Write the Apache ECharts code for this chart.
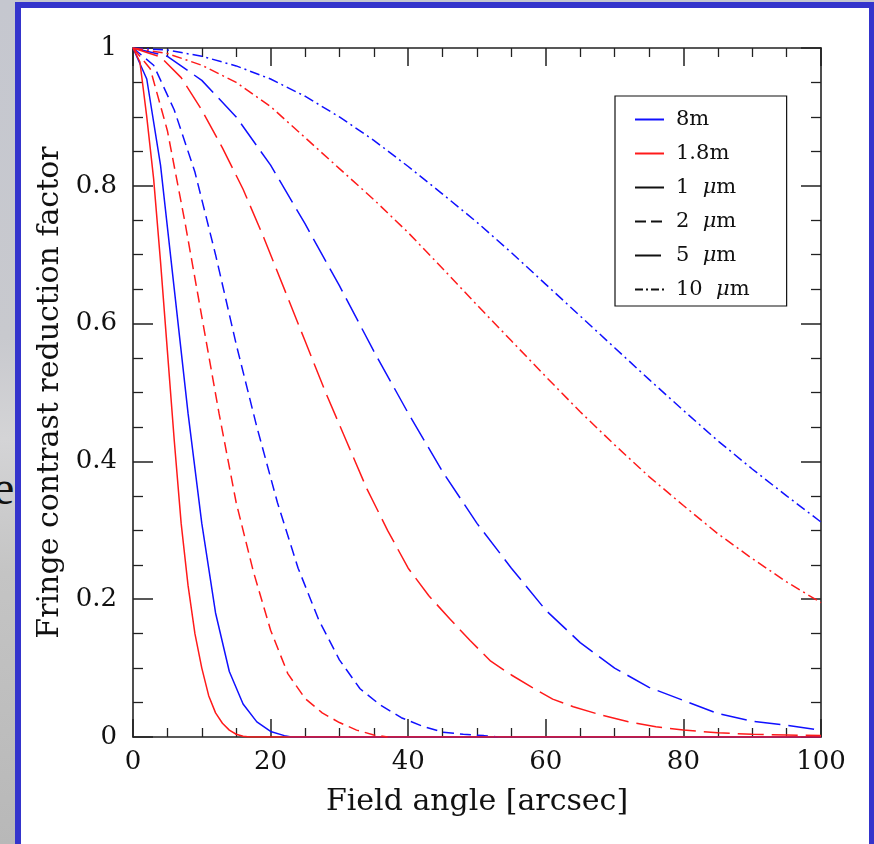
<!DOCTYPE html>
<html>
<head>
<meta charset="utf-8">
<script src="https://cdn.jsdelivr.net/npm/echarts@6/dist/echarts.min.js"></script>
<style>
  html, body { margin: 0; padding: 0; }
  body {
    width: 874px; height: 844px; overflow: hidden; position: relative;
    background: linear-gradient(to bottom, #c5c7cf 0%, #c8c9ce 40%, #d4d4d6 52%, #c4c4c4 68%, #b8b8b8 100%);
  }
  #slideText {
    position: absolute; left: -7px; top: 460px;
    font: 48px "Liberation Serif", serif; color: #111;
  }
  #panel {
    position: absolute; left: 15px; top: 2px; width: 859px; height: 842px;
    box-sizing: border-box; background: #fff;
    border-left: 6px solid #3434cc; border-top: 6px solid #3434cc; border-right: 5px solid #3434cc;
  }
  #chart { position: absolute; left: 0; top: 0; width: 874px; height: 844px; }
</style>
</head>
<body>
<div id="slideText">e</div>
<div id="panel"></div>
<div id="chart"></div>
<script>
// Fringe contrast reduction versus field angle, [angle in arcsec, factor]
// 8 m aperture
const blue1um  = [[0,1],[2,0.955],[4,0.83],[6,0.65],[8,0.47],[10,0.31],[12,0.18],[14,0.095],[16,0.048],[18,0.022],[20,0.008],[22,0.002],[23,0],[100,0]];
const blue2um  = [[0,1],[3,0.975],[6,0.91],[9,0.82],[12,0.7],[15,0.57],[18,0.45],[21,0.34],[24,0.245],[27,0.17],[30,0.112],[33,0.07],[36,0.046],[39,0.028],[42,0.016],[45,0.007],[48,0.004],[51,0.002],[53,0]];
const blue5um  = [[0,1],[5,0.988],[10,0.953],[15,0.9],[20,0.83],[25,0.745],[30,0.655],[35,0.56],[40,0.47],[45,0.385],[50,0.31],[55,0.245],[60,0.184],[65,0.137],[70,0.1],[75,0.072],[80,0.053],[85,0.034],[90,0.023],[95,0.017],[100,0.01]];
const blue10um = [[0,1],[5,0.997],[10,0.988],[15,0.974],[20,0.955],[25,0.93],[30,0.9],[35,0.866],[40,0.828],[45,0.788],[50,0.747],[55,0.703],[60,0.657],[65,0.611],[70,0.565],[75,0.519],[80,0.474],[85,0.43],[90,0.389],[95,0.35],[100,0.312]];
// 1.8 m aperture
const red1um  = [[0,1],[1,0.98],[2,0.9],[3,0.81],[4,0.69],[5,0.56],[6,0.43],[7,0.31],[8,0.22],[9,0.15],[10,0.1],[11,0.06],[12,0.035],[13,0.02],[14,0.01],[15,0.004],[16,0.001],[17,0],[100,0]];
const red2um  = [[0,1],[2.5,0.97],[5,0.88],[7.5,0.75],[10,0.61],[12.5,0.47],[15,0.34],[17.5,0.24],[20,0.155],[22.5,0.092],[25,0.056],[27.5,0.035],[30,0.021],[32.5,0.01],[35,0.003],[37,0]];
const red5um  = [[0,1],[4,0.987],[7,0.957],[10,0.91],[13,0.855],[16,0.795],[19,0.725],[22,0.65],[25,0.575],[28,0.5],[31,0.43],[34,0.36],[37,0.3],[40,0.245],[43,0.205],[46,0.172],[49,0.14],[52,0.11],[55,0.09],[58,0.072],[61,0.055],[64,0.044],[68,0.032],[72,0.022],[76,0.015],[80,0.01],[85,0.006],[90,0.004],[95,0.003],[100,0.002]];
const red10um = [[0,1],[5,0.992],[10,0.975],[15,0.95],[20,0.915],[25,0.87],[30,0.825],[35,0.78],[40,0.732],[45,0.68],[50,0.627],[55,0.575],[60,0.523],[65,0.472],[70,0.424],[75,0.378],[80,0.336],[85,0.295],[90,0.259],[95,0.225],[100,0.195]];

const legendNames = ['8m', '1.8m', '1  μm', '2  μm', '5  μm', '10  μm'];
const xRange = [0, 100], xStep = 20;
const yRange = [0, 1], yStep = 0.2;

const BLUE = '#1010ff', RED = '#ff1a1a', INK = '#111';
const FONT = 'DejaVu Serif';
const dashes = { solid: 'solid', short: [11, 6], long: [26, 8], dashDot: [10, 4, 2, 4] };

function curve(name, data, color, dash) {
  return {
    type: 'line', name, data, showSymbol: false, symbol: 'none',
    xAxisIndex: 0, yAxisIndex: 0, silent: true,
    lineStyle: { color, width: 1.5, type: dash }
  };
}
function legendOnly(name, color, dash) {
  return {
    type: 'line', name, data: [], symbol: 'none', color,
    lineStyle: { color, width: 1.4, type: dash }
  };
}

function axisCommon(extra) {
  return Object.assign({
    type: 'value',
    axisLine: { show: true, onZero: false, lineStyle: { color: '#222', width: 1.6 } },
    splitLine: { show: false }
  }, extra);
}
const majorX = { show: true, inside: true, length: 18, lineStyle: { color: '#222', width: 1.5 } };
const minorX = { show: true, splitNumber: 4, length: 9, lineStyle: { color: '#222', width: 1.3 } };
const majorY = { show: true, inside: true, length: 20, lineStyle: { color: '#222', width: 1.5 } };
const minorY = { show: true, splitNumber: 4, length: 10, lineStyle: { color: '#222', width: 1.3 } };

const chart = echarts.init(document.getElementById('chart'), null, { renderer: 'canvas' });
chart.setOption({
  animation: false,
  grid: { left: 133, top: 48, width: 688, height: 689 },
  legend: {
    data: legendNames, orient: 'vertical', left: 615, top: 96,
    itemWidth: 29, itemHeight: 14, itemGap: 13,
    padding: [13, 37, 6, 19],
    borderColor: '#111', borderWidth: 1.2, selectedMode: false,
    itemStyle: { opacity: 0 },
    textStyle: {
      fontFamily: FONT, fontSize: 21, color: INK, padding: [0, 0, 0, 7],
      rich: { i: { fontFamily: FONT, fontSize: 21, fontStyle: 'italic', color: INK } }
    },
    formatter: n => n.replace('μ', '{i|μ}')
  },
  xAxis: [
    axisCommon({
      min: xRange[0], max: xRange[1], interval: xStep, position: 'bottom',
      axisTick: majorX, minorTick: minorX,
      axisLabel: { color: INK, fontFamily: FONT, fontSize: 26, margin: 12 },
      name: 'Field angle [arcsec]', nameLocation: 'middle', nameGap: 50,
      nameTextStyle: { color: INK, fontFamily: FONT, fontSize: 30 }
    }),
    axisCommon({
      min: xRange[0], max: xRange[1], interval: xStep, position: 'top',
      axisTick: majorX, minorTick: minorX, axisLabel: { show: false }
    })
  ],
  yAxis: [
    axisCommon({
      min: yRange[0], max: yRange[1], interval: yStep, position: 'left',
      axisTick: majorY, minorTick: minorY,
      axisLabel: { color: INK, fontFamily: FONT, fontSize: 26, margin: 16 },
      name: 'Fringe contrast reduction factor', nameLocation: 'middle', nameGap: 57,
      nameTextStyle: { color: INK, fontFamily: FONT, fontSize: 30 }
    }),
    axisCommon({
      min: yRange[0], max: yRange[1], interval: yStep, position: 'right',
      axisTick: majorY, minorTick: minorY, axisLabel: { show: false }
    })
  ],
  series: [
    curve('8m 1μm', blue1um, BLUE, dashes.solid),
    curve('8m 2μm', blue2um, BLUE, dashes.short),
    curve('8m 5μm', blue5um, BLUE, dashes.long),
    curve('8m 10μm', blue10um, BLUE, dashes.dashDot),
    curve('1.8m 1μm', red1um, RED, dashes.solid),
    curve('1.8m 2μm', red2um, RED, dashes.short),
    curve('1.8m 5μm', red5um, RED, dashes.long),
    curve('1.8m 10μm', red10um, RED, dashes.dashDot),
    legendOnly(legendNames[0], BLUE, 'solid'),
    legendOnly(legendNames[1], RED, 'solid'),
    legendOnly(legendNames[2], INK, 'solid'),
    legendOnly(legendNames[3], INK, [11, 5]),
    legendOnly(legendNames[4], INK, [26, 8]),
    legendOnly(legendNames[5], INK, [8, 3, 2, 3])
  ]
});
</script>
</body>
</html>
